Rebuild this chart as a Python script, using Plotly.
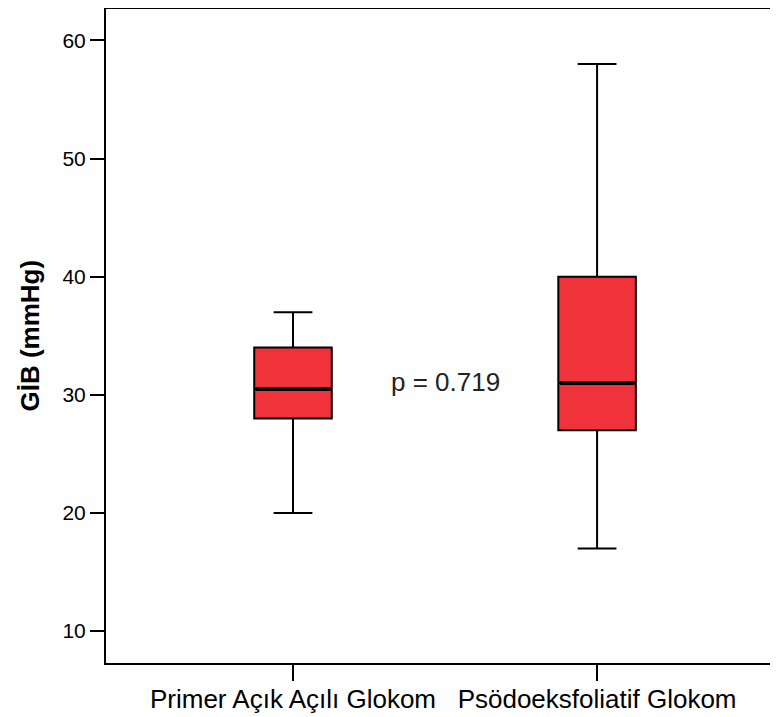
import plotly.graph_objects as go

categories = ["Primer Açık Açılı Glokom", "Psödoeksfoliatif Glokom"]
lower_whisker = [20, 17]
q1_vals = [28, 27]
median_vals = [30.5, 31]
q3_vals = [34, 40]
upper_whisker = [37, 58]
y_ticks = [10, 20, 30, 40, 50, 60]
p_text = "p = 0.719"
y_title = "GİB (mmHg)"

FONT = "Liberation Sans, Arial, sans-serif"
RED = "#f0323a"

fig = go.Figure()
fig.add_trace(go.Box(
    x=categories,
    q1=q1_vals, median=median_vals, q3=q3_vals,
    lowerfence=lower_whisker, upperfence=upper_whisker,
    fillcolor=RED, line=dict(color="black", width=2),
    width=0.255, whiskerwidth=0.5, boxpoints=False, hoverinfo="skip",
    showlegend=False,
))
# thicker median line
fig.add_trace(go.Box(
    x=categories,
    q1=median_vals, median=median_vals, q3=median_vals,
    lowerfence=median_vals, upperfence=median_vals,
    fillcolor="rgba(0,0,0,0)", line=dict(color="black", width=4),
    width=0.245, whiskerwidth=0, boxpoints=False, hoverinfo="skip",
    showlegend=False,
))

fig.add_annotation(
    x=0.5, y=31.1, xref="x", yref="y", text=p_text, showarrow=False,
    font=dict(family=FONT, size=26, color="#222222"),
)
fig.add_annotation(
    x=0, y=0.5, xref="paper", yref="paper", text="<b>" + y_title + "</b>",
    showarrow=False, textangle=-90, xanchor="center", yanchor="middle",
    xshift=-77, font=dict(family=FONT, size=26, color="black"),
)
# top frame line
fig.add_shape(type="line", xref="paper", yref="paper", x0=0, x1=1, y0=1, y1=1,
              line=dict(color="black", width=2))

fig.update_layout(
    width=770, height=709,
    margin=dict(l=98, r=0, t=0, b=54),
    paper_bgcolor="white", plot_bgcolor="white",
    boxmode="overlay",
    xaxis=dict(
        type="category", range=[-0.615, 1.595],
        showline=True, linecolor="black", linewidth=2,
        ticks="outside", ticklen=16, tickwidth=2, tickcolor="black",
        ticklabelstandoff=-4,
        showgrid=False, zeroline=False,
        tickfont=dict(family=FONT, size=26, color="black"),
    ),
    yaxis=dict(
        range=[7.3, 62.75], tickvals=y_ticks,
        showline=True, linecolor="black", linewidth=2,
        ticks="outside", ticklen=14, tickwidth=2, tickcolor="black",
        showgrid=False, zeroline=False,
        tickfont=dict(family=FONT, size=21, color="black"),
    ),
)

fig.write_html("out.html")
